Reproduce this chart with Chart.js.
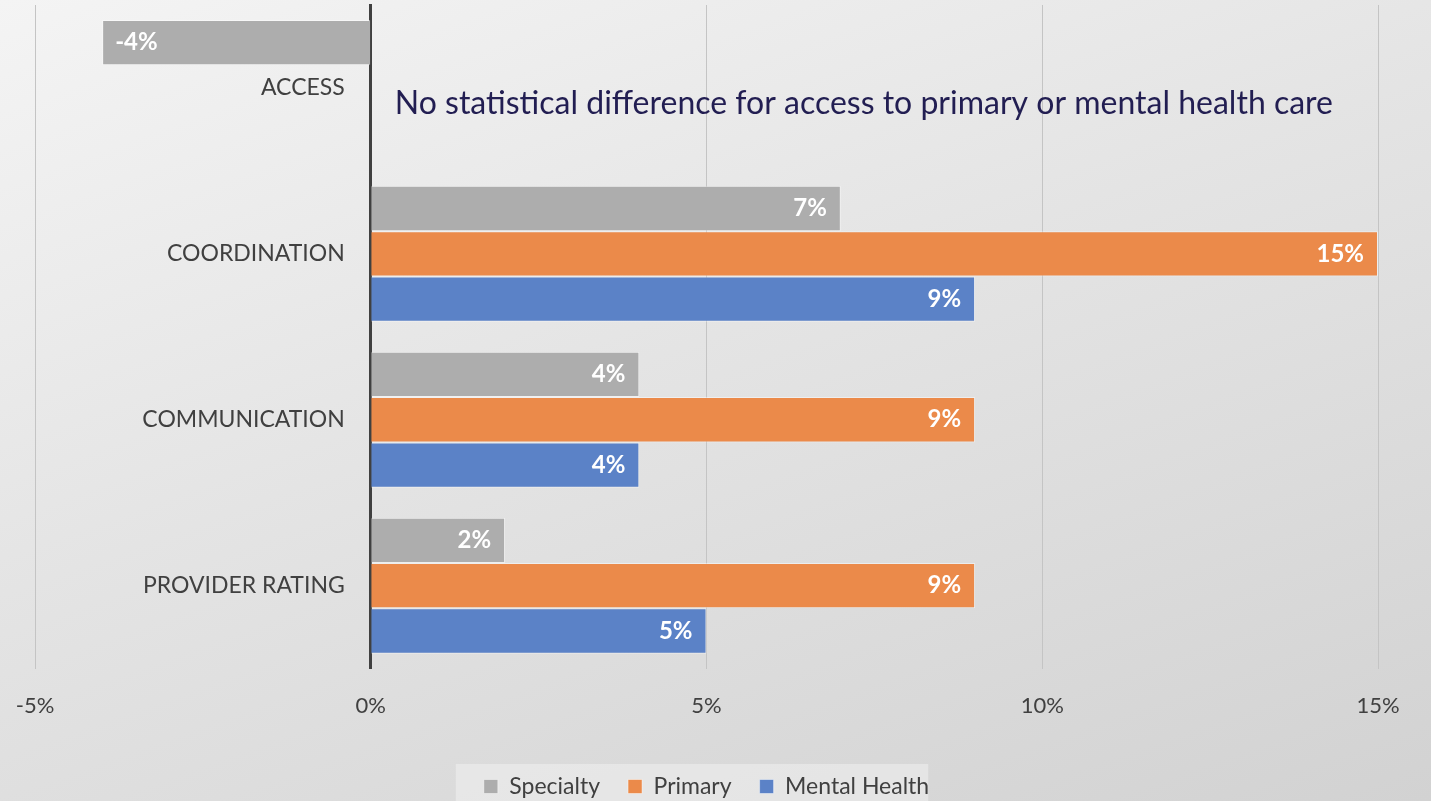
<!DOCTYPE html>
<html>
<head>
<meta charset="utf-8">
<script src="https://cdn.jsdelivr.net/npm/chart.js@4/dist/chart.umd.min.js"></script>
<style>
  html, body { margin: 0; padding: 0; }
  body {
    width: 1431px; height: 801px; overflow: hidden;
    background: linear-gradient(160deg, #f4f4f4 0%, #e4e4e4 45%, #d2d2d2 100%);
  }
  #wrap { position: relative; width: 1431px; height: 801px; overflow: hidden; }
</style>
</head>
<body>
<div id="wrap"><canvas id="diffChart" width="1431" height="812"></canvas></div>
<script>
// categories and series (percentage-point difference)
const categories = ['ACCESS', 'COORDINATION', 'COMMUNICATION', 'PROVIDER RATING'];
const specialty = [-4, 7, 4, 2];
const primary = [null, 15, 9, 9];
const mentalHealth = [null, 9, 4, 5];
const xTicks = [-5, 0, 5, 10, 15];
const note = 'No statistical difference for access to primary or mental health care';

const FONT = 'Lato, "Open Sans", sans-serif';

// category names sit just left of the zero line
const categoryLabels = {
  id: 'categoryLabels',
  afterDraw(chart) {
    const ctx = chart.ctx;
    const y = chart.scales.y;
    const x0 = chart.scales.x.getPixelForValue(0) - 26;
    ctx.save();
    ctx.font = '23px ' + FONT;
    ctx.fillStyle = '#404040';
    ctx.textAlign = 'right';
    ctx.textBaseline = 'middle';
    chart.data.labels.forEach((lbl, i) => {
      ctx.fillText(lbl, x0, y.getPixelForTick(i));
    });
    ctx.restore();
  }
};

// white % labels inside the bar ends
const barLabels = {
  id: 'barLabels',
  afterDatasetsDraw(chart) {
    const ctx = chart.ctx;
    ctx.save();
    ctx.font = 'bold 24px ' + FONT;
    ctx.fillStyle = '#ffffff';
    ctx.textBaseline = 'middle';
    chart.data.datasets.forEach((ds, i) => {
      chart.getDatasetMeta(i).data.forEach((bar, j) => {
        const v = ds.data[j];
        if (v === null || v === undefined) return;
        if (v < 0) {
          ctx.textAlign = 'left';
          ctx.fillText(v + '%', bar.x + 13, bar.y);
        } else {
          ctx.textAlign = 'right';
          ctx.fillText(v + '%', bar.x - 14, bar.y);
        }
      });
    });
    ctx.restore();
  }
};

// note beside the ACCESS row
const accessNote = {
  id: 'accessNote',
  afterDraw(chart) {
    const ctx = chart.ctx;
    const x = chart.scales.x.getPixelForValue(0) + 24;
    const y = chart.scales.y.getPixelForValue(0) + 16;
    ctx.save();
    ctx.font = '32px ' + FONT;
    ctx.fillStyle = '#221e52';
    ctx.textAlign = 'left';
    ctx.textBaseline = 'middle';
    ctx.fillText(note, x, y);
    ctx.restore();
  }
};

// pale panel behind the legend
const legendPanel = {
  id: 'legendPanel',
  beforeDraw(chart) {
    const lg = chart.legend;
    if (!lg || !lg.legendHitBoxes.length) return;
    const boxes = lg.legendHitBoxes;
    const last = boxes[boxes.length - 1];
    const left = boxes[0].left - 28;
    const right = last.left + last.width - 28 + 27;
    const ctx = chart.ctx;
    ctx.save();
    ctx.fillStyle = 'rgba(240,240,240,0.55)';
    ctx.fillRect(left, boxes[0].top - 11, right - left, 80);
    ctx.restore();
  }
};

new Chart(document.getElementById('diffChart'), {
  type: 'bar',
  data: {
    labels: categories,
    datasets: [
      { label: 'Specialty', data: specialty, backgroundColor: '#adadad', borderColor: 'rgba(255,255,255,0.45)', borderWidth: 1 },
      { label: 'Primary', data: primary, backgroundColor: '#eb8a4a', borderColor: 'rgba(255,255,255,0.45)', borderWidth: 1 },
      { label: 'Mental Health', data: mentalHealth, backgroundColor: '#5b82c7', borderColor: 'rgba(255,255,255,0.45)', borderWidth: 1 }
    ]
  },
  options: {
    indexAxis: 'y',
    responsive: false,
    animation: false,
    layout: { padding: { left: 35, right: 53, top: 5, bottom: 4 } },
    datasets: { bar: { categoryPercentage: 0.82, barPercentage: 1 } },
    plugins: {
      legend: {
        position: 'bottom',
        labels: {
          color: '#404040',
          font: { family: FONT, size: 23 },
          boxWidth: 14, boxHeight: 14,
          padding: 28
        }
      },
      tooltip: { enabled: false }
    },
    scales: {
      x: {
        min: -5, max: 15,
        afterBuildTicks: (s) => { s.ticks = xTicks.map(v => ({ value: v })); },
        afterFit: (s) => {
          s.height += 4;
          // edge tick labels may overhang the plot; keep the plot edges fixed
          s.paddingLeft = 0;
          s.paddingRight = 0;
        },
        grid: { color: '#c4c4c4', lineWidth: 1, drawTicks: false },
        border: { display: false },
        ticks: {
          color: '#404040',
          font: { family: FONT, size: 22 },
          padding: 24,
          callback: (v) => v + '%'
        }
      },
      y: {
        position: { x: 0 },
        grid: { display: false, drawTicks: false },
        border: { display: true, color: '#404040', width: 3 },
        ticks: { display: false }
      }
    }
  },
  plugins: [legendPanel, barLabels, categoryLabels, accessNote]
});
</script>
</body>
</html>
